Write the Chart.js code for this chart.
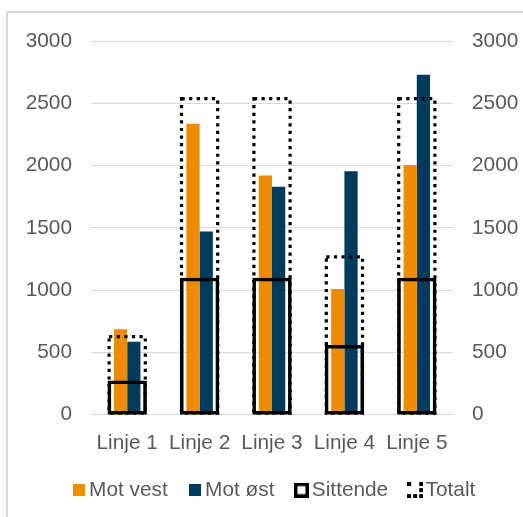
<!DOCTYPE html>
<html>
<head>
<meta charset="utf-8">
<script src="https://cdn.jsdelivr.net/npm/chart.js@4/dist/chart.umd.min.js"></script>
<style>
html,body{margin:0;padding:0;background:#fff;}
#wrap{width:523px;height:517px;position:relative;}
</style>
</head>
<body>
<div id="wrap"><canvas id="c" width="523" height="517"></canvas></div>
<script>
const categories = ["Linje 1", "Linje 2", "Linje 3", "Linje 4", "Linje 5"];
const motVest = [685, 2335, 1920, 1010, 2005];
const motOst = [585, 1470, 1830, 1955, 2730];
const sittende = [275, 1100, 1100, 560, 1100];
const totalt = [640, 2550, 2550, 1280, 2550];
const seriesNames = ["Mot vest", "Mot øst", "Sittende", "Totalt"];
const yTicks = [0, 500, 1000, 1500, 2000, 2500, 3000];

const ORANGE = "#EE8B00";
const BLUE = "#003B5C";
const TEXT = "#595959";
const GRID = "#d9d9d9";
const FONT = {family: "'Liberation Sans', Arial, sans-serif", size: 20.8};

function fillMarker(color) {
  const c = document.createElement("canvas");
  c.width = 12; c.height = 12;
  const g = c.getContext("2d");
  g.fillStyle = color; g.fillRect(0, 0, 12, 12);
  return c;
}
function boxMarker() {
  const c = document.createElement("canvas");
  c.width = 15; c.height = 15;
  const g = c.getContext("2d");
  g.fillStyle = "#000"; g.fillRect(0, 0, 15, 15);
  g.fillStyle = "#fff"; g.fillRect(3.5, 3.5, 8, 8);
  return c;
}
function dotMarker() {
  const c = document.createElement("canvas");
  c.width = 16; c.height = 16;
  const g = c.getContext("2d");
  g.fillStyle = "#000";
  const pts = [[0,0],[12,0],[12,6],[0,12],[6,12],[12,12]];
  pts.forEach(p => g.fillRect(p[0], p[1], 4, 4));
  return c;
}
const markers = [fillMarker(ORANGE), fillMarker(BLUE), boxMarker(), dotMarker()];

const framePlugin = {
  id: "frame",
  beforeDraw(chart) {
    const ctx = chart.ctx;
    ctx.save();
    ctx.fillStyle = "#fff";
    ctx.fillRect(0, 0, chart.width, chart.height);
    ctx.strokeStyle = GRID;
    ctx.lineWidth = 2;
    ctx.strokeRect(7, 12, 600, 600);
    ctx.restore();
  }
};

const dottedPlugin = {
  id: "dotted",
  afterDatasetsDraw(chart) {
    const meta = chart.getDatasetMeta(3);
    if (!meta || meta.hidden) return;
    const ctx = chart.ctx;
    ctx.save();
    ctx.strokeStyle = "#000";
    ctx.lineWidth = 3.2;
    ctx.setLineDash([3.2, 4.4]);
    meta.data.forEach(el => {
      const {x, y, base, width} = el.getProps(["x", "y", "base", "width"], true);
      const h = base - y;
      const lw = 1.6;
      ctx.strokeRect(x - width / 2 + lw, y + lw, width - 2 * lw, h - 2 * lw);
    });
    ctx.restore();
  }
};

const tickFmt = v => String(v);

new Chart(document.getElementById("c"), {
  type: "bar",
  data: {
    labels: categories,
    datasets: [
      {label: seriesNames[0], data: motVest, backgroundColor: ORANGE, yAxisID: "y", order: 2,
       categoryPercentage: 0.366, barPercentage: 1},
      {label: seriesNames[1], data: motOst, backgroundColor: BLUE, yAxisID: "y", order: 2,
       categoryPercentage: 0.366, barPercentage: 1},
      {label: seriesNames[2], data: sittende, backgroundColor: "rgba(0,0,0,0)", borderColor: "#000",
       borderWidth: 3.6, borderSkipped: false, yAxisID: "y2", order: 1, grouped: false,
       categoryPercentage: 1, barPercentage: 0.544},
      {label: seriesNames[3], data: totalt, backgroundColor: "rgba(0,0,0,0)", borderWidth: 0,
       yAxisID: "y2", order: 1, grouped: false,
       categoryPercentage: 1, barPercentage: 0.544}
    ]
  },
  options: {
    responsive: false,
    animation: false,
    devicePixelRatio: 1,
    layout: {padding: {left: 20, right: -11, top: 41, bottom: 6.5}},
    plugins: {
      tooltip: {enabled: false},
      legend: {
        position: "bottom",
        labels: {
          font: FONT,
          color: TEXT,
          padding: 27,
          usePointStyle: true,
          pointStyleWidth: 0.01,
          generateLabels(chart) {
            return seriesNames.map((n, i) => ({
              text: n, pointStyle: markers[i], fillStyle: "#000", strokeStyle: "#000",
              lineWidth: 0, hidden: false, datasetIndex: i, fontColor: TEXT
            }));
          }
        }
      }
    },
    scales: {
      x: {
        grid: {display: false, drawTicks: false},
        border: {display: true, color: GRID, width: 1},
        ticks: {font: FONT, color: TEXT, padding: 16},
        afterFit(s) { s.height = 38; }
      },
      y: {
        position: "left", min: 0, max: 3000,
        afterBuildTicks(s) { s.ticks = yTicks.map(v => ({value: v})); },
        grid: {color: GRID, drawTicks: false, lineWidth: 1},
        border: {display: false},
        ticks: {font: FONT, color: TEXT, padding: 19, callback: tickFmt},
        afterFit(s) { s.width = 71; }
      },
      y2: {
        position: "right", min: 0, max: 3000,
        afterBuildTicks(s) { s.ticks = yTicks.map(v => ({value: v})); },
        grid: {display: false, drawTicks: false},
        border: {display: false},
        ticks: {font: FONT, color: TEXT, padding: 19, callback: tickFmt},
        afterFit(s) { s.width = 81; }
      }
    }
  },
  plugins: [framePlugin, dottedPlugin]
});
</script>
</body>
</html>
